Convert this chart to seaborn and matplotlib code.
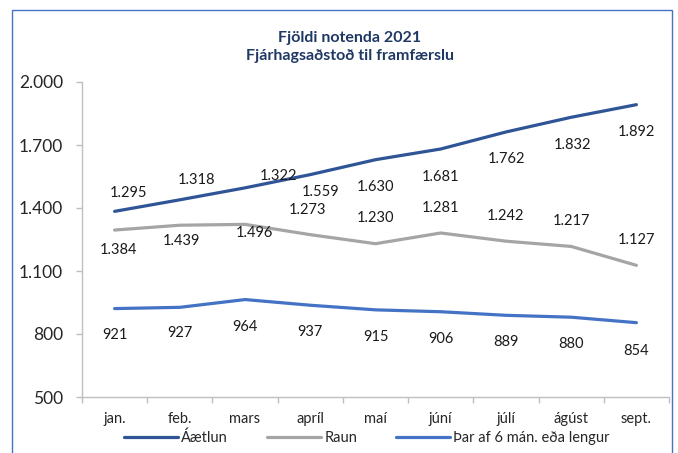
"""Fjöldi notenda 2021 - línurit."""
import matplotlib
matplotlib.use("Agg")
import matplotlib.pyplot as plt
import matplotlib.patches as mpatches
from matplotlib.ticker import FuncFormatter, FixedLocator
import pandas as pd
import seaborn as sns

# --- gögn ---
months = ["jan.", "feb.", "mars", "apríl", "maí", "júní", "júlí", "ágúst", "sept."]
aaetlun = [1384, 1439, 1496, 1559, 1630, 1681, 1762, 1832, 1892]
raun = [1295, 1318, 1322, 1273, 1230, 1281, 1242, 1217, 1127]
langtima = [921, 927, 964, 937, 915, 906, 889, 880, 854]
series_names = ["Áætlun", "Raun", "Þar af 6 mán. eða lengur"]
colors = ["#2F5597", "#A5A5A5", "#4472C4"]

# merkingar settar handvirkt eins og í Excel (pixlar frá punkti)
nudge_aaetlun = [(4, -39), (2, -41), (9, -45), (10, -17), (0, -27), (0, -28), (1, -27), (1, -28), (0, -27)]
nudge_raun = [(14, 37), (17, 45), (33, 48), (-3, 25), (0, 26), (0, 25), (0, 25), (0, 25), (0, 25)]
nudge_lang = [(0, -26), (0, -26), (0, -27), (0, -27), (0, -27), (0, -27), (0, -27), (0, -27), (0, -28)]

sns.set_style("white")
plt.rcParams["font.family"] = ["Lato", "DejaVu Sans"]

rows = []
for name, vals in zip(series_names, [aaetlun, raun, langtima]):
    for i, (m, v) in enumerate(zip(months, vals)):
        rows.append({"pos": i, "month": m, "value": v, "series": name})
df = pd.DataFrame(rows)

fig = plt.figure(figsize=(6.78, 4.53), dpi=100)
ax = fig.add_axes([82 / 678, 1 - 397 / 453, (669 - 82) / 678, (397 - 82) / 453])

sns.lineplot(data=df, x="pos", y="value", hue="series", hue_order=series_names,
             palette=colors, linewidth=2.3, ax=ax, legend=True)

fmt = lambda v: f"{v:,.0f}".replace(",", ".")
for vals, nudges in [(aaetlun, nudge_aaetlun), (raun, nudge_raun), (langtima, nudge_lang)]:
    for i, (v, (dx, dy)) in enumerate(zip(vals, nudges)):
        ax.annotate(fmt(v), (i, v), xytext=(dx, dy), textcoords="offset pixels",
                    ha="center", va="center", fontsize=10.5, color="#1a1a1a")

ax.set_xlim(-0.5, len(months) - 0.5)
ax.set_ylim(500, 2000)
ax.set_yticks([500, 800, 1100, 1400, 1700, 2000])
ax.yaxis.set_major_formatter(FuncFormatter(lambda v, p: fmt(v)))
ax.set_xticks(range(len(months)))
ax.set_xticklabels(months)
ax.xaxis.set_minor_locator(FixedLocator([i - 0.5 for i in range(len(months) + 1)]))
ax.set_xlabel("")
ax.set_ylabel("")

for side in ["top", "right"]:
    ax.spines[side].set_visible(False)
for side in ["left", "bottom"]:
    ax.spines[side].set_color("#BFBFBF")
    ax.spines[side].set_linewidth(1.0)

ax.tick_params(axis="y", length=4.5, width=1, color="#BFBFBF", pad=9,
               labelsize=12.5, labelcolor="#262626", left=True)
ax.tick_params(axis="x", which="major", length=0, pad=11, labelsize=10.5, labelcolor="#262626")
ax.tick_params(axis="x", which="minor", length=4, width=1, color="#BFBFBF", bottom=True)

handles, labels = ax.get_legend_handles_labels()
ax.legend(handles, labels, loc="center", bbox_to_anchor=(367 / 678, 1 - 438 / 453),
          bbox_transform=fig.transFigure, ncol=3, frameon=False, fontsize=10.5,
          handlelength=3.7, handletextpad=0.2, columnspacing=2.7, labelcolor="#262626")

fig.text(350 / 678, 1 - 47 / 453, "Fjöldi notenda 2021\nFjárhagsaðstoð til framfærslu",
         ha="center", va="center", fontsize=11.5, fontweight="bold", color="#1F3864",
         linespacing=1.4)

# rammi utan um myndina
fig.patches.append(mpatches.Rectangle((12 / 678, -0.01), (672 - 12) / 678, 1 - 10 / 453 + 0.01,
                                      transform=fig.transFigure, fill=False,
                                      edgecolor="#4472C4", linewidth=1.0))

fig.savefig("out.png", dpi=100)
